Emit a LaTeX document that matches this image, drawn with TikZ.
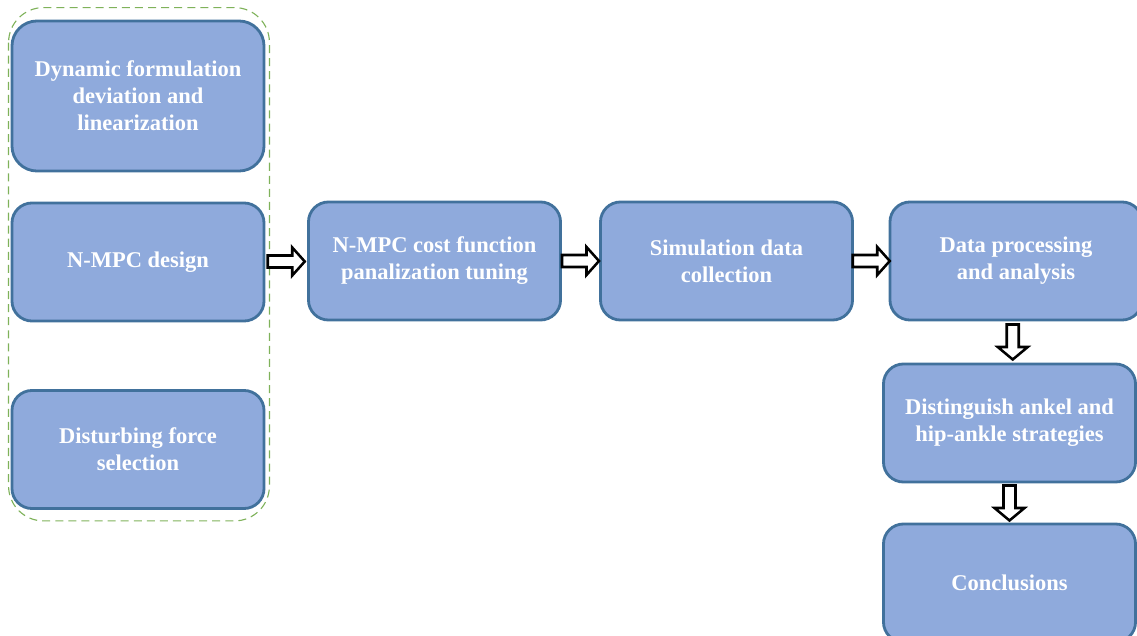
\documentclass[tikz,border=0pt]{standalone}
\usepackage{fontspec}
\setmainfont{Liberation Serif}
\usetikzlibrary{calc}
\definecolor{boxfill}{HTML}{8FAADC}
\definecolor{boxline}{HTML}{41719C}
\definecolor{grpline}{HTML}{7FB25A}
\tikzset{
  stepbox/.style={draw=boxline, line width=2pt, fill=boxfill, rounded corners=0.5cm,
    minimum width=6.3cm, minimum height=2.95cm, align=center, text=white,
    font=\bfseries\fontsize{16}{19.2}\selectfont},
  hollow/.style={draw=black, fill=white, line width=1.8pt, line join=miter},
  group/.style={draw=grpline, line width=0.8pt, dash pattern=on 5.7pt off 3.6pt, rounded corners=0.875cm},
}
% hollow block arrows between two boxes
\newcommand{\rarrow}[2]{%
  \coordinate (m) at ($(#1.east)!.5!(#2.west)$);
  \draw[hollow] ($(m)+(-18.5,-6)$) -- ($(m)+(6,-6)$) -- ($(m)+(6,-14)$) -- ($(m)+(18.5,0)$)
    -- ($(m)+(6,14)$) -- ($(m)+(6,6)$) -- ($(m)+(-18.5,6)$) -- cycle;}
\newcommand{\darrow}[2]{%
  \coordinate (m) at ($(#1.south)!.5!(#2.north)$);
  \draw[hollow] ($(m)+(-6,-17.5)$) -- ($(m)+(-6,5)$) -- ($(m)+(-15,5)$) -- ($(m)+(0,17.5)$)
    -- ($(m)+(15,5)$) -- ($(m)+(6,5)$) -- ($(m)+(6,-17.5)$) -- cycle;}
\begin{document}
\begin{tikzpicture}[x=0.025cm, y=-0.025cm]
    \useasboundingbox (0,0) rectangle (1137,636);
    \clip (0,0) rectangle (1137,636);
    % modelling steps
    \node[stepbox, minimum height=3.75cm, rounded corners=0.625cm] (dyn) at (138,96) {Dynamic formulation\\deviation and\\linearization};
    \node[stepbox] (nmpc) at (138,262) {N-MPC design};
    \node[stepbox] (force) at (138,449.5) {Disturbing force\\selection};
    \draw[group] ($(dyn.north west)+(-2,-12)$) rectangle ($(force.south east)+(4,11)$);
    % main chain
    \node[stepbox] (tune) at (434.5,261) {N-MPC cost function\\panalization tuning};
    \node[stepbox] (sim) at (726.5,261) {Simulation data\\collection};
    \node[stepbox] (proc) at (1016,261) {Data processing\\and analysis};
    \node[stepbox] (strat) at (1009.5,423) {Distinguish ankel and\\hip-ankle strategies};
    \node[stepbox] (concl) at (1009.5,583) {Conclusions};
    \rarrow{nmpc}{tune}
    \rarrow{tune}{sim}
    \rarrow{sim}{proc}
    \darrow{proc}{strat}
    \darrow{strat}{concl}
\end{tikzpicture}
\end{document}
